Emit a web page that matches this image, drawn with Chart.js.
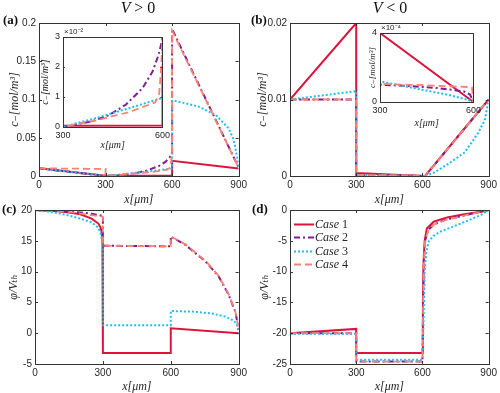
<!DOCTYPE html>
<html>
<head>
<meta charset="utf-8">
<script src="https://cdn.jsdelivr.net/npm/chart.js@4.4.1/dist/chart.umd.min.js"></script>
<style>
  body { margin:0; width:500px; height:393px; position:relative; overflow:hidden; background:#fff; }
  canvas { position:absolute; }
  .ttl { position:absolute; font:italic 16px 'Liberation Serif','DejaVu Serif',serif; color:#111; transform:translateX(-50%); white-space:nowrap; }
  .ttl span { font-style:normal; }
  .tag { position:absolute; font:bold 13px 'Liberation Serif','DejaVu Serif',serif; color:#111; }
</style>
</head>
<body>
<canvas id="chA" width="250" height="210" style="left:0;top:0"></canvas>
<canvas id="chB" width="250" height="210" style="left:250px;top:0"></canvas>
<canvas id="chC" width="250" height="200" style="left:0;top:196px"></canvas>
<canvas id="chD" width="250" height="200" style="left:250px;top:196px"></canvas>
<canvas id="inA" width="135" height="130" style="left:38px;top:24px"></canvas>
<canvas id="inB" width="132" height="112" style="left:352px;top:20px"></canvas>

<div class="ttl" style="left:138px;top:-1px">V <span>&gt; 0</span></div>
<div class="ttl" style="left:390px;top:-1px">V <span>&lt; 0</span></div>
<div class="tag" style="left:3px;top:12px">(a)</div>
<div class="tag" style="left:251px;top:12px">(b)</div>
<div class="tag" style="left:2px;top:201px">(c)</div>
<div class="tag" style="left:252px;top:201px">(d)</div>

<script>
// ---- data ----
const CASES = ['Case 1', 'Case 2', 'Case 3', 'Case 4'];
const X_TICKS = [0, 300, 600, 900];

// (a) V>0, c- [mol/m^3]
const a1x = [0, 300, 600, 600, 900];
const a1y = [0.0100, 0.0004, 0.0005, 0.0198, 0.0098];
const a2x = [0, 300, 390, 440, 490, 540, 570, 588, 598, 600, 600, 900];
const a2y = [0.0100, 0.0000, 0.0020, 0.0040, 0.0075, 0.0130, 0.0185, 0.0240, 0.0285, 0.0300, 0.1920, 0.0110];
const a3x = [0, 300, 400, 500, 600, 600, 616, 717, 796, 856, 878, 893, 900];
const a3y = [0.0100, 0.0000, 0.0030, 0.0063, 0.0097, 0.0980, 0.0980, 0.0910, 0.0800, 0.0620, 0.0470, 0.0250, 0.0120];
const a4x = [0, 300, 300, 400, 500, 578, 590, 596, 600, 600, 900];
const a4y = [0.0100, 0.0092, 0.0000, 0.0022, 0.0050, 0.0082, 0.0110, 0.0200, 0.0300, 0.1900, 0.0110];
const aTicks = [0, 0.05, 0.1, 0.15, 0.2];
const aInTicks = [0, 0.01, 0.02, 0.03];

// (b) V<0, c- [mol/m^3]
const b1x = [0, 300, 300, 600, 612, 900];
const b1y = [0.0100, 0.0200, 0.00040, 0.0000, 0.0000, 0.0100];
const b2x = [0, 300, 300, 400, 484, 568, 589, 600, 612, 900];
const b2y = [0.0100, 0.0100, 0.00010, 0.000092, 0.000081, 0.000062, 0.000043, 0.0000, 0.0000, 0.0100];
const b3x = [0, 300, 300, 432, 516, 579, 600, 612, 650, 718, 792, 852, 882, 900];
const b3y = [0.0100, 0.0111, 0.00012, 0.000072, 0.000043, 0.000014, 0.0000, 0.0000, 0.0004, 0.0016, 0.0031, 0.0056, 0.0073, 0.0099];
const b4x = [0, 300, 300, 450, 579, 595, 600, 612, 900];
const b4y = [0.0100, 0.0100, 0.000105, 0.000097, 0.000087, 0.000085, 0.0000, 0.0000, 0.0100];
const bTicks = [0, 0.01, 0.02];
const bInTicks = [0, 0.0004];

// (c) V>0, phi/Vth
const c1x = [0, 100, 150, 200, 250, 280, 290, 295, 298, 300, 300, 600, 600, 900];
const c1y = [20, 19.8, 19.6, 19.3, 18.6, 17.8, 17.1, 16.4, 15.3, 13.5, -3.2, -3.2, 0.8, 0];
const c2x = [0, 100, 200, 250, 280, 300, 300, 600, 600, 666, 755, 812, 856, 885, 897, 900];
const c2y = [20, 19.9, 19.6, 19.4, 19.2, 19.0, 14.2, 14.1, 15.7, 14.3, 11.6, 9.2, 6.2, 3.5, 1.3, 0.5];
const c3x = [0, 50, 100, 150, 200, 250, 280, 292, 298, 300, 300, 600, 600, 700, 780, 840, 880, 895, 900];
const c3y = [20, 19.8, 19.5, 19.1, 18.6, 18.0, 17.1, 16.0, 14.5, 12, 1.3, 1.3, 3.6, 3.5, 3.2, 2.7, 2.0, 1.2, 0];
const c4x = [0, 150, 300, 300, 600, 600, 666, 755, 812, 856, 885, 897, 900];
const c4y = [20, 19.7, 18.9, 14.2, 14.1, 15.7, 14.4, 11.7, 9.3, 6.3, 3.6, 1.4, 0.6];
const cTicks = [-5, 0, 5, 10, 15, 20];

// (d) V<0, phi/Vth
const d1x = [0, 300, 300, 600, 602, 605, 610, 620, 651, 712, 789, 866, 900];
const d1y = [-20, -19.3, -23.2, -23.2, -15, -8.4, -5, -3, -1.9, -1.2, -0.7, -0.3, 0];
const d2x = [0, 300, 300, 600, 603, 607, 612, 625, 650, 700, 800, 900];
const d2y = [-20, -20, -24.6, -24.6, -15, -8, -5, -3.3, -2.4, -1.6, -0.8, 0];
const d3x = [0, 300, 300, 600, 605, 610, 617, 628, 650, 682, 774, 866, 900];
const d3y = [-20.1, -20.1, -24.3, -24.3, -18, -10, -7, -5.1, -4.2, -3.5, -2.2, -0.8, 0];
const d4x = [0, 300, 300, 600, 603, 607, 612, 625, 650, 700, 800, 900];
const d4y = [-20, -20, -24.6, -24.6, -15, -8, -5, -3.4, -2.4, -1.7, -0.8, 0];
const dTicks = [-25, -20, -15, -10, -5, 0];

// ---- styles ----
const STYLE = [
  { color: '#DC143C', dash: [],           width: 2 },
  { color: '#7E1F96', dash: [6, 3, 2, 3], width: 2 },
  { color: '#1EBFF5', dash: [2, 2],       width: 2 },
  { color: '#FA8072', dash: [7, 4],       width: 1.8 },
];
const SANS  = "'Liberation Sans', Arial, sans-serif";
const SERIF = "'Liberation Serif', 'DejaVu Serif', serif";
const INK = '#262626';

const zip = (xs, ys) => xs.map((x, i) => ({ x, y: ys[i] }));

function series(list) {
  return list.map(([xs, ys], i) => ({
    label: CASES[i],
    data: zip(xs, ys),
    borderColor: STYLE[i].color,
    borderDash: STYLE[i].dash,
    borderWidth: STYLE[i].width,
    pointRadius: 0,
    tension: 0,
    fill: false,
    order: 4 - i,
  }));
}

/* box + inward ticks, optional white plot background and exponent text */
const framePlugin = {
  id: 'frame',
  beforeDraw(chart, args, o) {
    if (!o.fill) return;
    const { left, top, right, bottom } = chart.chartArea;
    const ctx = chart.ctx;
    ctx.save();
    ctx.fillStyle = '#fff';
    ctx.fillRect(left, top, right - left, bottom - top);
    ctx.restore();
  },
  afterDraw(chart, args, o) {
    const { left, top, right, bottom } = chart.chartArea;
    const ctx = chart.ctx, xs = chart.scales.x, ys = chart.scales.y;
    const tl = o.tick || 3;
    ctx.save();
    ctx.strokeStyle = '#333';
    ctx.lineWidth = 1;
    ctx.setLineDash([]);
    ctx.beginPath();
    xs.ticks.forEach(t => {
      const p = Math.round(xs.getPixelForValue(t.value)) + 0.5;
      ctx.moveTo(p, bottom); ctx.lineTo(p, bottom - tl);
      ctx.moveTo(p, top);    ctx.lineTo(p, top + tl);
    });
    ys.ticks.forEach(t => {
      const p = Math.round(ys.getPixelForValue(t.value)) + 0.5;
      ctx.moveTo(left, p);  ctx.lineTo(left + tl, p);
      ctx.moveTo(right, p); ctx.lineTo(right - tl, p);
    });
    ctx.stroke();
    ctx.strokeRect(Math.round(left) + 0.5, Math.round(top) + 0.5,
                   Math.round(right - left), Math.round(bottom - top));
    if (o.exp) {
      ctx.fillStyle = INK;
      ctx.font = '8px ' + SANS;
      ctx.textBaseline = 'bottom';
      ctx.textAlign = 'left';
      ctx.fillText(o.exp, left + 1, top - 1);
    }
    ctx.restore();
  }
};
Chart.register(framePlugin);

/* legend drawn inside panel (d) */
const insideLegend = {
  id: 'insideLegend',
  afterDraw(chart) {
    const { left, top } = chart.chartArea;
    const ctx = chart.ctx;
    ctx.save();
    chart.data.datasets.forEach((ds, i) => {
      const y = Math.round(top + 14 + i * 13.4) + 0.5;
      ctx.strokeStyle = ds.borderColor;
      ctx.lineWidth = ds.borderWidth;
      ctx.setLineDash(ds.borderDash);
      ctx.beginPath();
      ctx.moveTo(left + 4, y); ctx.lineTo(left + 24, y);
      ctx.stroke();
      ctx.setLineDash([]);
      ctx.fillStyle = INK;
      ctx.textBaseline = 'middle';
      ctx.textAlign = 'left';
      const [word, num] = ds.label.split(' ');
      ctx.font = 'italic 12px ' + SERIF;
      ctx.fillText(word, left + 25, y);
      const w = ctx.measureText(word).width;
      ctx.font = '12px ' + SERIF;
      ctx.fillText(' ' + num, left + 25 + w, y);
    });
    ctx.restore();
  }
};

function axis(o) {
  return {
    type: 'linear',
    min: o.min, max: o.max,
    afterBuildTicks: s => { s.ticks = o.ticks.map(v => ({ value: v })); },
    afterFit: s => { if (o.w != null) s.width = o.w; if (o.h != null) s.height = o.h; },
    grid: { display: false, drawTicks: false },
    border: { display: false },
    ticks: {
      autoSkip: false, maxRotation: 0, padding: o.pad ?? 3,
      color: INK, font: { family: SANS, size: o.fs || 10 },
      callback: o.fmt || (v => v),
    },
    title: o.title ? {
      display: true, text: o.title, color: INK,
      font: { family: SERIF, size: o.tfs || 12, style: 'italic' },
      padding: o.tpad,
    } : { display: false },
  };
}

function makeChart(id, datasets, o, extra) {
  return new Chart(document.getElementById(id), {
    type: 'line',
    data: { datasets },
    plugins: extra || [],
    options: {
      responsive: false, animation: false, parsing: true,
      layout: { padding: { top: o.top, right: o.right, left: 0, bottom: 0 } },
      plugins: { legend: { display: false }, tooltip: { enabled: false },
                 frame: { fill: !!o.fill, exp: o.exp, tick: o.tick } },
      scales: { x: axis(o.x), y: axis(o.y) },
    },
  });
}

const C_LABEL = 'c\u208B[mol/m\u00B3]';
const PHI_LABEL = '\u03C6/V\u209C\u2095';
const X_LABEL = 'x[\u03BCm]';

const setA = series([[a1x, a1y], [a2x, a2y], [a3x, a3y], [a4x, a4y]]);
const setB = series([[b1x, b1y], [b2x, b2y], [b3x, b3y], [b4x, b4y]]);
const setC = series([[c1x, c1y], [c2x, c2y], [c3x, c3y], [c4x, c4y]]);
const setD = series([[d1x, d1y], [d2x, d2y], [d3x, d3y], [d4x, d4y]]);

makeChart('chA', setA, {
  top: 23, right: 10,
  x: { min: 0, max: 900, ticks: X_TICKS, h: 34, title: X_LABEL, tpad: { bottom: 3 } },
  y: { min: 0, max: 0.2, ticks: aTicks, w: 39, title: C_LABEL, tpad: { top: 8 } },
});
makeChart('chB', setB, {
  top: 23, right: 9,
  x: { min: 0, max: 900, ticks: X_TICKS, h: 34, title: X_LABEL, tpad: { bottom: 3 } },
  y: { min: 0, max: 0.02, ticks: bTicks, w: 40, title: C_LABEL, tpad: { top: 6 } },
});
makeChart('chC', setC, {
  top: 14, right: 10,
  x: { min: 0, max: 900, ticks: X_TICKS, h: 32, title: X_LABEL, tpad: { bottom: 2 } },
  y: { min: -5, max: 20, ticks: cTicks, w: 35, title: PHI_LABEL, tpad: { top: 7 } },
});
makeChart('chD', setD, {
  top: 14, right: 9,
  x: { min: 0, max: 900, ticks: X_TICKS, h: 32, title: X_LABEL, tpad: { bottom: 2 } },
  y: { min: -25, max: 0, ticks: dTicks, w: 40, title: PHI_LABEL, tpad: { top: 8 } },
}, [insideLegend]);

// insets: same series, zoomed on 300-600 um
makeChart('inA', series([[a1x, a1y], [a2x, a2y], [a3x, a3y], [a4x, a4y]]), {
  top: 13, right: 9, fill: true, exp: '\u00D710\u207B\u00B2', tick: 2,
  x: { min: 300, max: 600, ticks: [300, 600], h: 27, fs: 9, pad: 3, title: X_LABEL, tfs: 10, tpad: { bottom: 3 } },
  y: { min: 0, max: 0.03, ticks: aInTicks, w: 25, fs: 9, pad: 3, title: C_LABEL, tfs: 10, tpad: { top: 1 },
       fmt: v => Math.round(v * 100) },
});
makeChart('inB', series([[b1x, b1y], [b2x, b2y], [b3x, b3y], [b4x, b4y]]), {
  top: 13, right: 9, fill: true, exp: '\u00D710\u207B\u2074', tick: 2,
  x: { min: 300, max: 600, ticks: [300, 600], h: 30, fs: 9, pad: 3, title: X_LABEL, tfs: 10, tpad: { bottom: 3 } },
  y: { min: 0, max: 0.0004, ticks: bInTicks, w: 28, fs: 9, pad: 3, title: C_LABEL, tfs: 9, tpad: { top: 15 },
       fmt: v => Math.round(v * 1e4) },
});
</script>
</body>
</html>
